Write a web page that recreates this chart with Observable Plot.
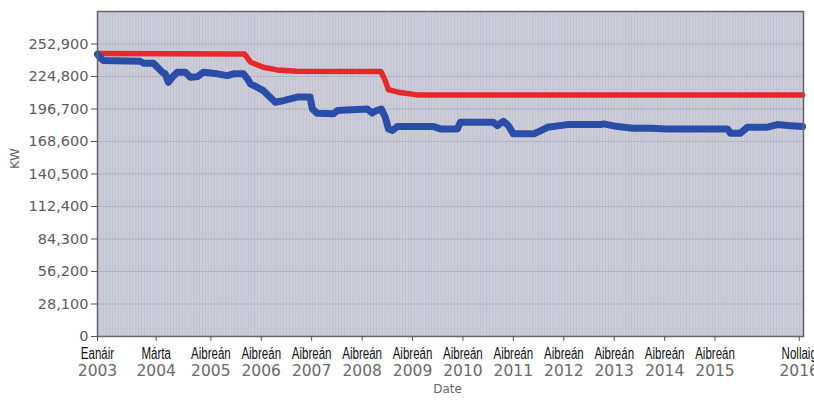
<!DOCTYPE html>
<html>
<head>
<meta charset="utf-8">
<script src="https://cdn.jsdelivr.net/npm/d3@7"></script>
<script src="https://cdn.jsdelivr.net/npm/@observablehq/plot@0.6"></script>
<style>
  html, body { margin: 0; padding: 0; background: #fff; }
</style>
</head>
<body>
<div id="chart"></div>
<script>
// ---- data ----
const redDates = ["2003-01-01","2005-12-01","2006-01-15","2006-04-15","2006-07-25","2006-12-15","2008-08-15","2008-09-15","2008-10-08","2009-01-01","2009-05-05","2016-12-25"];
const redValues = [244600,244200,237100,232800,230500,229300,229100,221300,213500,210900,208900,208900];

const blueDates = ["2003-01-01","2003-01-20","2003-02-12","2003-11-06","2003-12-01","2004-02-10","2004-03-10","2004-04-15","2004-05-06","2004-05-28","2004-06-26","2004-08-01","2004-09-28","2004-11-04","2004-12-25","2005-02-06","2005-05-18","2005-07-28","2005-09-12","2005-11-22","2005-12-22","2006-01-13","2006-03-03","2006-04-16","2006-05-22","2006-07-12","2006-09-09","2006-10-28","2006-12-18","2007-03-21","2007-04-06","2007-05-12","2007-09-06","2007-10-04","2008-05-09","2008-06-13","2008-07-12","2008-08-18","2008-09-16","2008-10-08","2008-11-06","2008-12-12","2009-09-01","2009-10-20","2010-02-20","2010-03-13","2010-11-07","2010-12-06","2011-01-19","2011-02-25","2011-04-01","2011-08-25","2011-09-22","2011-12-04","2012-04-27","2012-12-22","2013-01-13","2013-04-24","2013-08-18","2013-12-19","2014-04-21","2015-07-01","2015-07-22","2015-10-01","2015-11-21","2016-04-15","2016-06-25","2016-09-28","2016-12-25"];
const blueValues = [244000,241200,238600,238000,236300,236300,232800,228500,227100,219800,224100,228500,228500,224100,224700,228500,227100,225600,227100,227100,222800,218400,215500,212600,208300,202500,204000,205400,207000,207000,196800,193000,192500,195300,196600,193200,195300,196600,189500,179500,178000,181500,181500,179500,179500,185200,185200,182300,186100,182300,175200,175200,176500,180900,183200,183200,183800,181500,180000,180000,179500,179500,175700,175700,180900,181000,183200,182300,181500];

const yTicks = [0,28100,56200,84300,112400,140500,168600,196700,224800,252900];
const tickDates = ["2003-01-01","2004-03-01","2005-04-01","2006-04-01","2007-04-01","2008-04-01","2009-04-01","2010-04-01","2011-04-01","2012-04-01","2013-04-01","2014-04-01","2015-04-01","2016-12-01"];
const tickMonths = ["Eanáir","Márta","Aibreán","Aibreán","Aibreán","Aibreán","Aibreán","Aibreán","Aibreán","Aibreán","Aibreán","Aibreán","Aibreán","Nollaig"];
const tickYears = ["2003","2004","2005","2006","2007","2008","2009","2010","2011","2012","2013","2014","2015","2016"];

const xDomain = [new Date("2003-01-01"), new Date("2017-01-01")];
const yDomain = [0, 281000];

// ---- tables built from the arrays ----
const red = redDates.map((d, i) => ({date: new Date(d), value: redValues[i]}));
const blue = blueDates.map((d, i) => ({date: new Date(d), value: blueValues[i]}));
const ticks = tickDates.map((d, i) => ({date: new Date(d), month: tickMonths[i], year: tickYears[i]}));
const stripes = d3.utcWeek.range(xDomain[0], xDomain[1], 3);

const chart = Plot.plot({
  width: 814,
  height: 403,
  marginLeft: 97,
  marginRight: 11,
  marginTop: 11,
  marginBottom: 67,
  style: {fontFamily: "'DejaVu Sans', sans-serif", fontSize: "14.5px", background: "#fff", overflow: "visible"},
  x: {type: "utc", domain: xDomain},
  y: {domain: yDomain},
  marks: [
    Plot.frame({fill: "#cdced9", stroke: null}),
    Plot.ruleX(stripes, {stroke: "#bfc1ce", strokeWidth: 1}),
    Plot.gridY(yTicks, {stroke: "#a9abba", strokeOpacity: 0.7, strokeWidth: 1}),
    Plot.line(red, {x: "date", y: "value", stroke: "#e6282b", strokeWidth: 5.5}),
    Plot.line(blue, {x: "date", y: "value", stroke: "#2a4ea8", strokeWidth: 7}),
    Plot.frame({stroke: "#666", strokeWidth: 1.5}),
    Plot.axisY(yTicks, {tickFormat: d3.format(","), tickSize: 6, tickPadding: 3, stroke: "#555", fill: "#5c5c5c", label: null}),
    Plot.axisX(tickDates.map(d => new Date(d)), {tickSize: 5, stroke: "#555", tickFormat: () => "", label: null}),
    Plot.text(ticks, {x: "date", text: "month", frameAnchor: "bottom", dy: 22, fill: "#111", fontSize: 16,
      fontFamily: "'Liberation Sans', Arial, sans-serif"}),
    Plot.text(ticks, {x: "date", text: "year", frameAnchor: "bottom", dy: 39, fill: "#6a6a6a", fontSize: 15.5}),
    Plot.text(["Date"], {frameAnchor: "bottom", dx: -3, dy: 56, fill: "#666", fontSize: 12}),
    Plot.text(["KW"], {frameAnchor: "left", dx: -83, dy: -5, rotate: -90, fill: "#666", fontSize: 13})
  ]
});
document.getElementById("chart").appendChild(chart);

// condense the month labels (the reference uses a condensed face)
const monthSet = new Set(tickMonths);
d3.select(chart).selectAll("text")
  .filter(function() { return monthSet.has(this.textContent); })
  .each(function() {
    const w = this.getComputedTextLength();
    this.setAttribute("textLength", (w * 0.72).toFixed(1));
    this.setAttribute("lengthAdjust", "spacingAndGlyphs");
  });
</script>
</body>
</html>
